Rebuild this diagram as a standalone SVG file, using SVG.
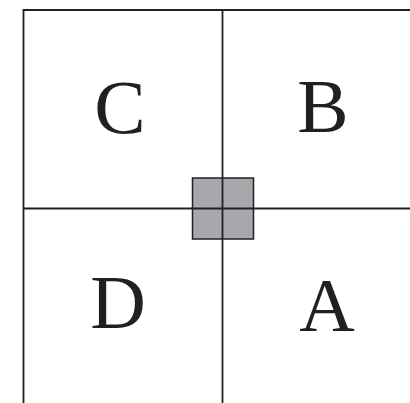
<svg xmlns="http://www.w3.org/2000/svg" width="410" height="403" viewBox="0 0 410 403">
<style>
.ln{stroke:#231f20;stroke-width:1.8;fill:none}
.lbl{font-family:"Liberation Serif","Times New Roman",serif;font-size:77px;fill:#231f20;text-anchor:middle}
</style>
<rect width="410" height="403" fill="#fff"/>
<g id="center">
<rect x="192.5" y="178" width="61" height="61" fill="#a7a8ab" stroke="#231f20" stroke-width="1.5"/>
</g>
<g id="connectors">
<line class="ln" x1="23" y1="10" x2="410" y2="10"/>
<line class="ln" x1="23.5" y1="9.1" x2="23.5" y2="403"/>
<line class="ln" x1="222.5" y1="10" x2="222.5" y2="403"/>
<line class="ln" x1="23" y1="208.5" x2="410" y2="208.5"/>
</g>
<g id="C"><text class="lbl" x="120" y="133">C</text></g>
<g id="B"><text class="lbl" x="323" y="132">B</text></g>
<g id="D"><text class="lbl" x="118" y="328">D</text></g>
<g id="A"><text class="lbl" x="327" y="331">A</text></g>
</svg>
